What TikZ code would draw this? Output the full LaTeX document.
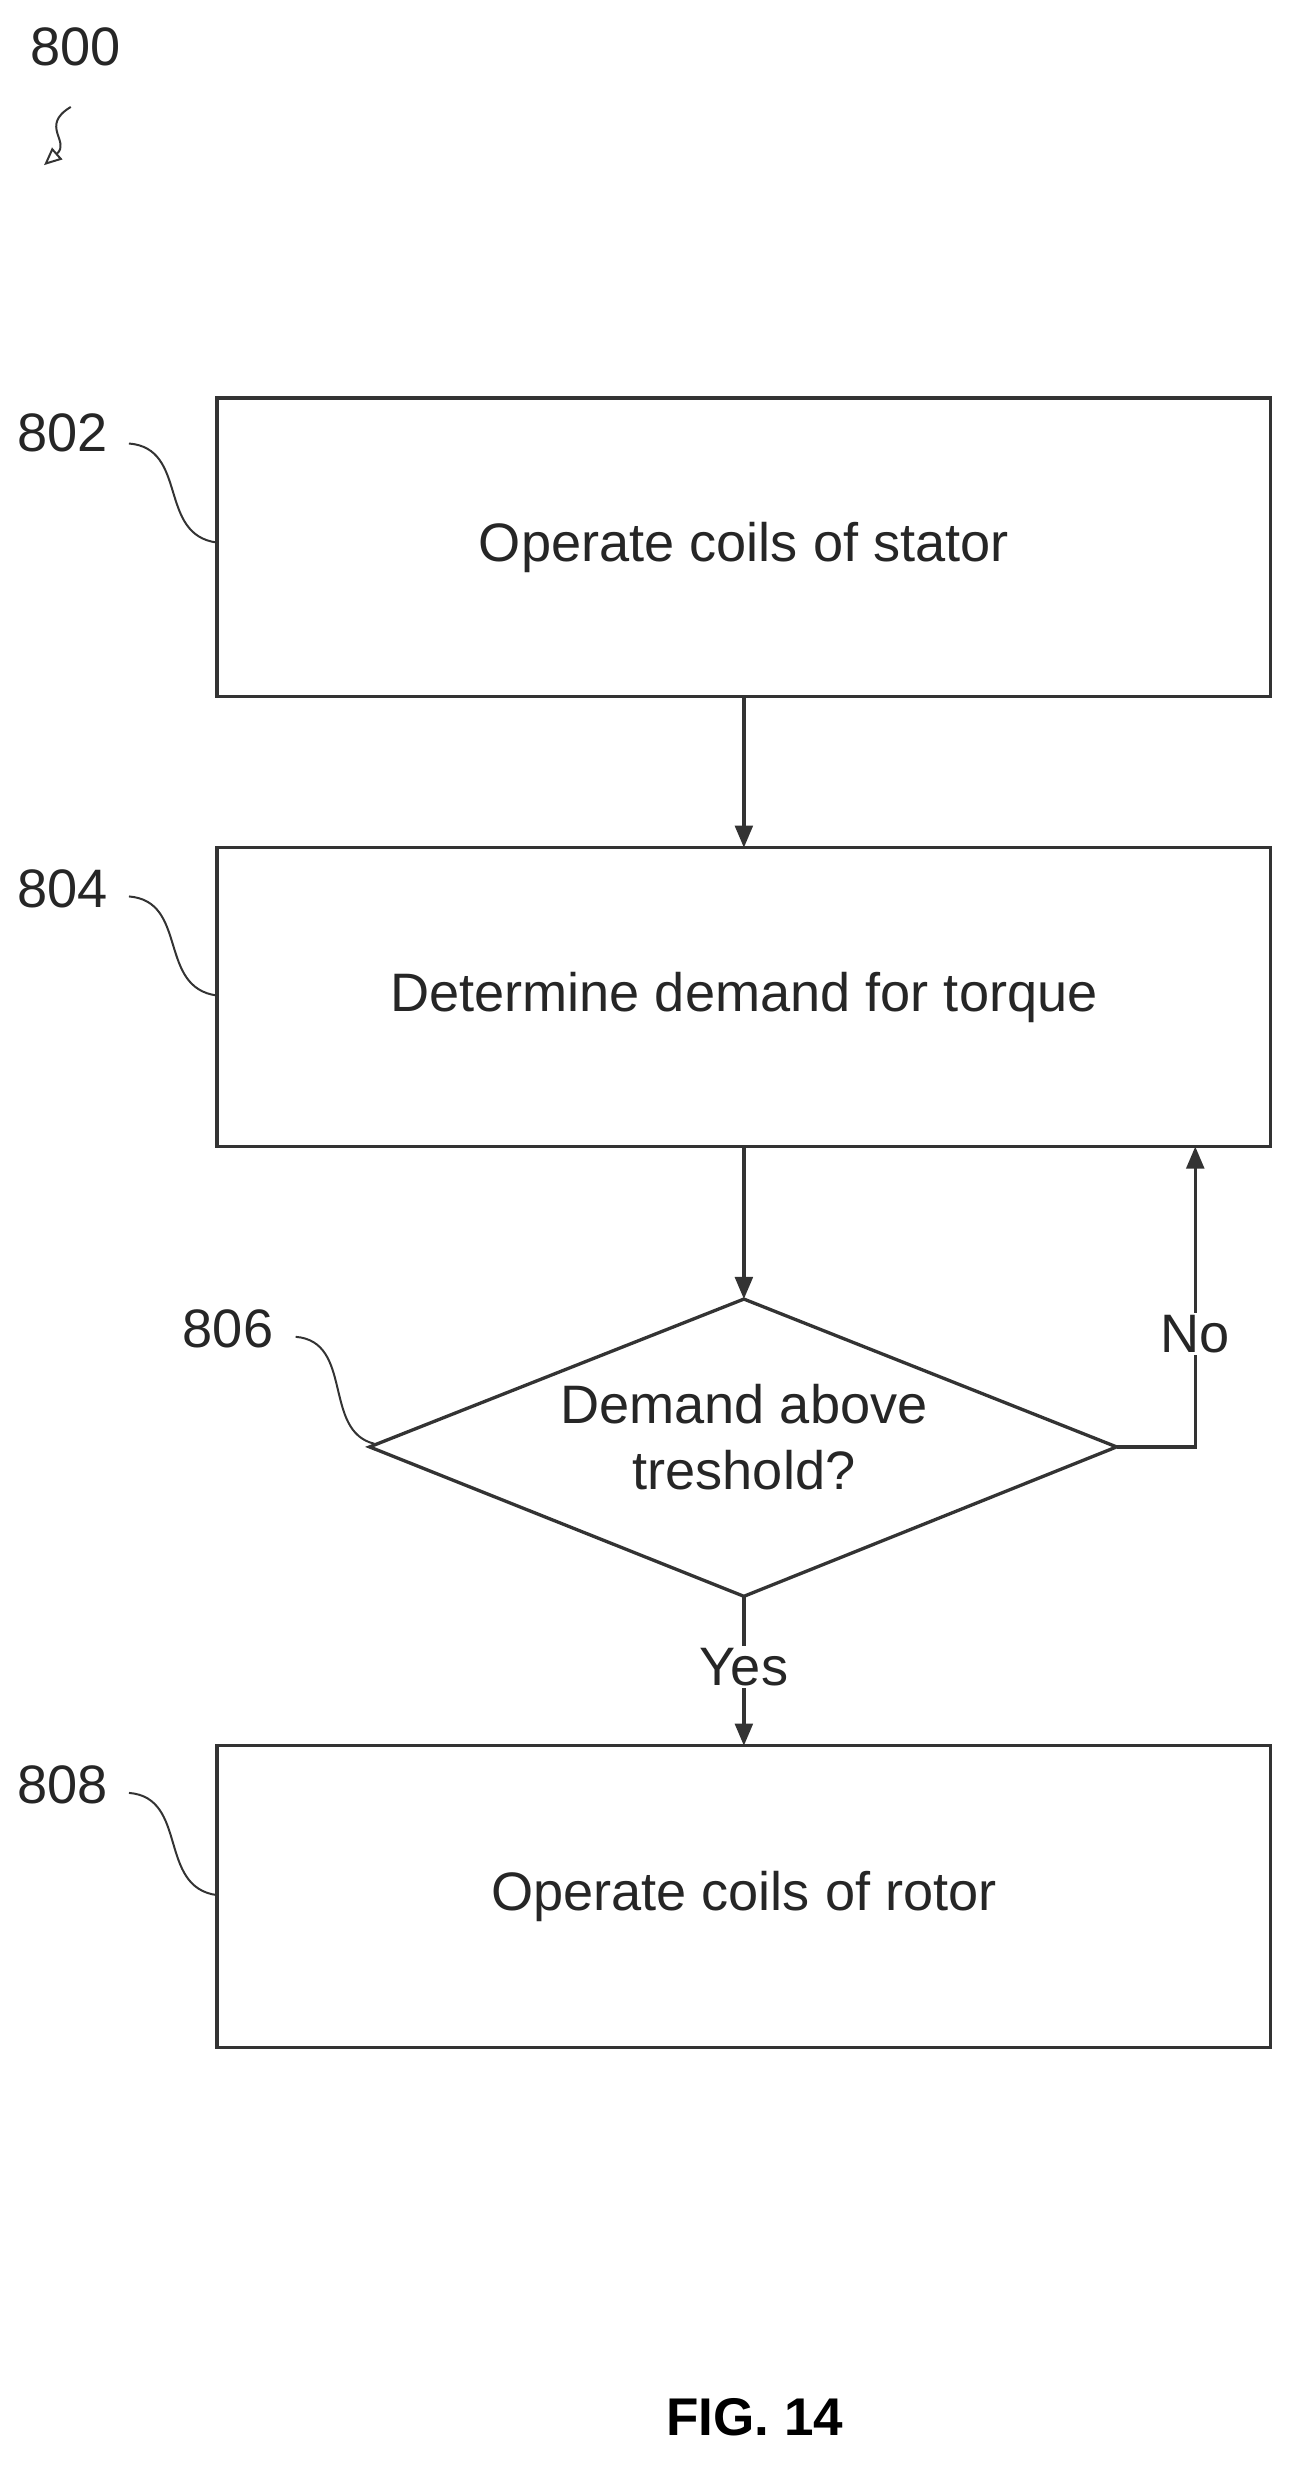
\documentclass[tikz,border=0pt]{standalone}
\usepackage{fontspec}
\setmainfont{Liberation Sans}
\usetikzlibrary{shapes.geometric,arrows.meta}
\begin{document}
\begin{tikzpicture}[x=0.05cm,y=-0.05cm,
  ln/.style={draw=black!80,line width=3pt},
  box/.style={ln,fill=white},
  txt/.style={font=\fontsize{49}{60}\selectfont,text=black!85,align=center},
  arr/.style={ln,-{Triangle[length=20pt,width=16pt]}}]
\useasboundingbox (0,0) rectangle (822,1568);
\draw[box] (138,253) rectangle (808,443);
\node[txt] (a) at (473,348) {Operate coils of stator};
\draw[box] (138,539) rectangle (808,729);
\node[txt] (b) at (473,634) {Determine demand for torque};
\draw[box] (473,826) -- (710,920) -- (473,1015) -- (235,920) -- cycle;
\node[txt] (c) at (473,914) {Demand above\\treshold?};
\draw[box] (138,1110) rectangle (808,1302);
\node[txt] (d) at (473,1206) {Operate coils of rotor};
\coordinate (b1) at (473,443); \coordinate (b2) at (473,539);
\coordinate (c1) at (473,729); \coordinate (c2) at (473,826);
\coordinate (c3) at (473,1015); \coordinate (c4) at (473,1110);
\coordinate (r) at (710,920); \coordinate (rt) at (760,729);
\draw[arr] (b1) -- (b2);
\draw[arr] (c1) -- (c2);
\draw[arr] (c3) -- (c4);
\draw[arr] (r) -| (rt);
\node[txt,fill=white,inner sep=2pt] (yes) at (473,1060) {Yes};
\node[txt,fill=white,inner sep=2pt] (no) at (760,848) {No};
\node[txt] (n800) at (48,30) {800};
\node[txt] (n802) at (40,275) {802};
\node[txt] (n804) at (40,565) {804};
\node[txt] (n806) at (145,845) {806};
\node[txt] (n808) at (40,1135) {808};
\draw[ln,line width=1.8pt] (82,282) .. controls (120,285) and (100,340) .. (138,345);
\draw[ln,line width=1.8pt] (82,570) .. controls (120,573) and (100,628) .. (138,633);
\draw[ln,line width=1.8pt] (188,850) .. controls (225,853) and (205,910) .. (238,918);
\draw[ln,line width=1.8pt] (82,1140) .. controls (120,1143) and (100,1200) .. (138,1205);
\draw[ln,line width=1.8pt,-{Triangle[length=16pt,width=14pt,open]}] (45,68) .. controls (25,80) and (45,90) .. (28,105);
\node[font=\bfseries\fontsize{48}{56}\selectfont] (fig) at (480,1537) {FIG. 14};
\end{tikzpicture}
\end{document}
